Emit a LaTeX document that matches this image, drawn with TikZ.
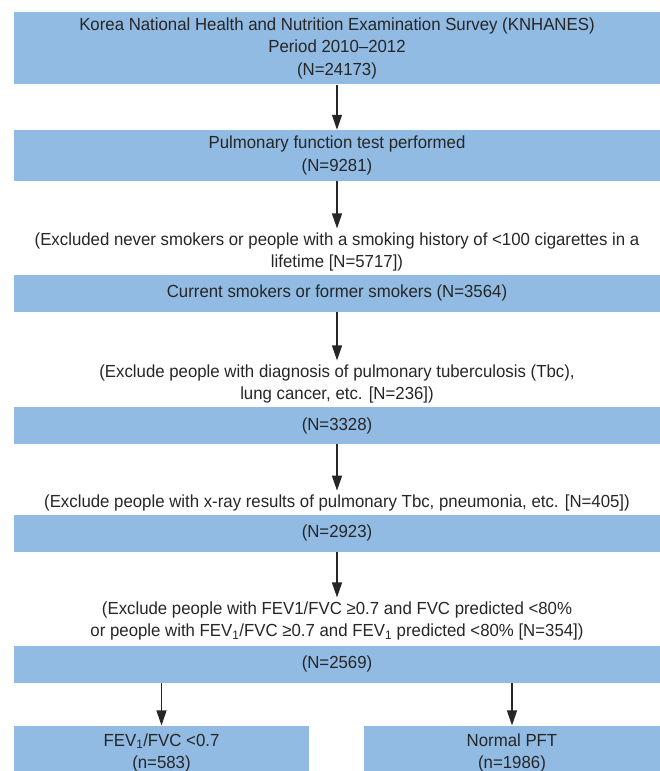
\documentclass[tikz,border=0pt]{standalone}
\usepackage{fontspec}
\setmainfont{Liberation Sans}[FakeStretch=0.96]
\usetikzlibrary{arrows.meta}
\definecolor{boxblue}{RGB}{145,187,227}
\definecolor{inkgray}{RGB}{38,38,38}

\begin{document}
\begin{tikzpicture}[x=1pt, y=-1pt,
    font=\fontsize{17.5}{22.5}\selectfont, text=inkgray,
    box/.style={fill=boxblue, minimum width=646pt, align=center, inner sep=0pt},
    note/.style={align=center, inner sep=4pt},
    arr/.style={-{Triangle[width=10pt,length=15pt]}, line width=1.3pt, draw=inkgray}]
    \clip (0,0) rectangle (660,771);

    % Main boxes
    \node[box, minimum height=72pt] (survey) at (337,48.3)
        {Korea National Health and Nutrition Examination Survey (KNHANES)\\Period 2010--2012\\(N=24173)};
    \node[box, minimum height=50.7pt] (pft) at (337,155.3)
        {Pulmonary function test performed\\(N=9281)};
    \node[box, minimum height=36.7pt] (smokers) at (337,293.3)
        {Current smokers or former smokers (N=3564)};
    \node[box, minimum height=37pt] (n3328) at (337,425.5) {(N=3328)};
    \node[box, minimum height=36.7pt] (n2923) at (337,533.3) {(N=2923)};
    \node[box, minimum height=36.7pt] (n2569) at (337,664.3) {(N=2569)};

    % Exclusion notes
    \node[note] (exnever) at (337,252)
        {(Excluded never smokers or people with a smoking history of <100 cigarettes in a\\lifetime [N=5717])};
    \node[note] (extbc) at (337,384)
        {(Exclude people with diagnosis of pulmonary tuberculosis (Tbc),\\lung cancer, etc. [N=236])};
    \node[note] (exxray) at (337,503)
        {(Exclude people with x-ray results of pulmonary Tbc, pneumonia, etc. [N=405])};
    \node[note] (exfvc) at (337,621)
        {(Exclude people with FEV1/FVC ≥0.7 and FVC predicted <80\%\\or people with FEV\textsubscript{1}/FVC ≥0.7 and FEV\textsubscript{1} predicted <80\% [N=354])};

    % Outcome boxes
    \node[box, minimum width=295pt, minimum height=54.3pt] (copd) at (161.5,752.8)
        {FEV\textsubscript{1}/FVC <0.7\\(n=583)};
    \node[box, minimum width=296pt, minimum height=54.3pt] (normal) at (512,752.8)
        {Normal PFT\\(n=1986)};

    % Draw arrows
    \draw[arr] (survey) -- (pft);
    \draw[arr] (pft) -- (exnever);
    \draw[arr] (smokers) -- (extbc);
    \draw[arr] (n3328) -- (exxray);
    \draw[arr] (n2923) -- (exfvc);
    \draw[arr] (n2569.south -| copd.north) -- (copd.north);
    \draw[arr] (n2569.south -| normal.north) -- (normal.north);
\end{tikzpicture}
\end{document}
